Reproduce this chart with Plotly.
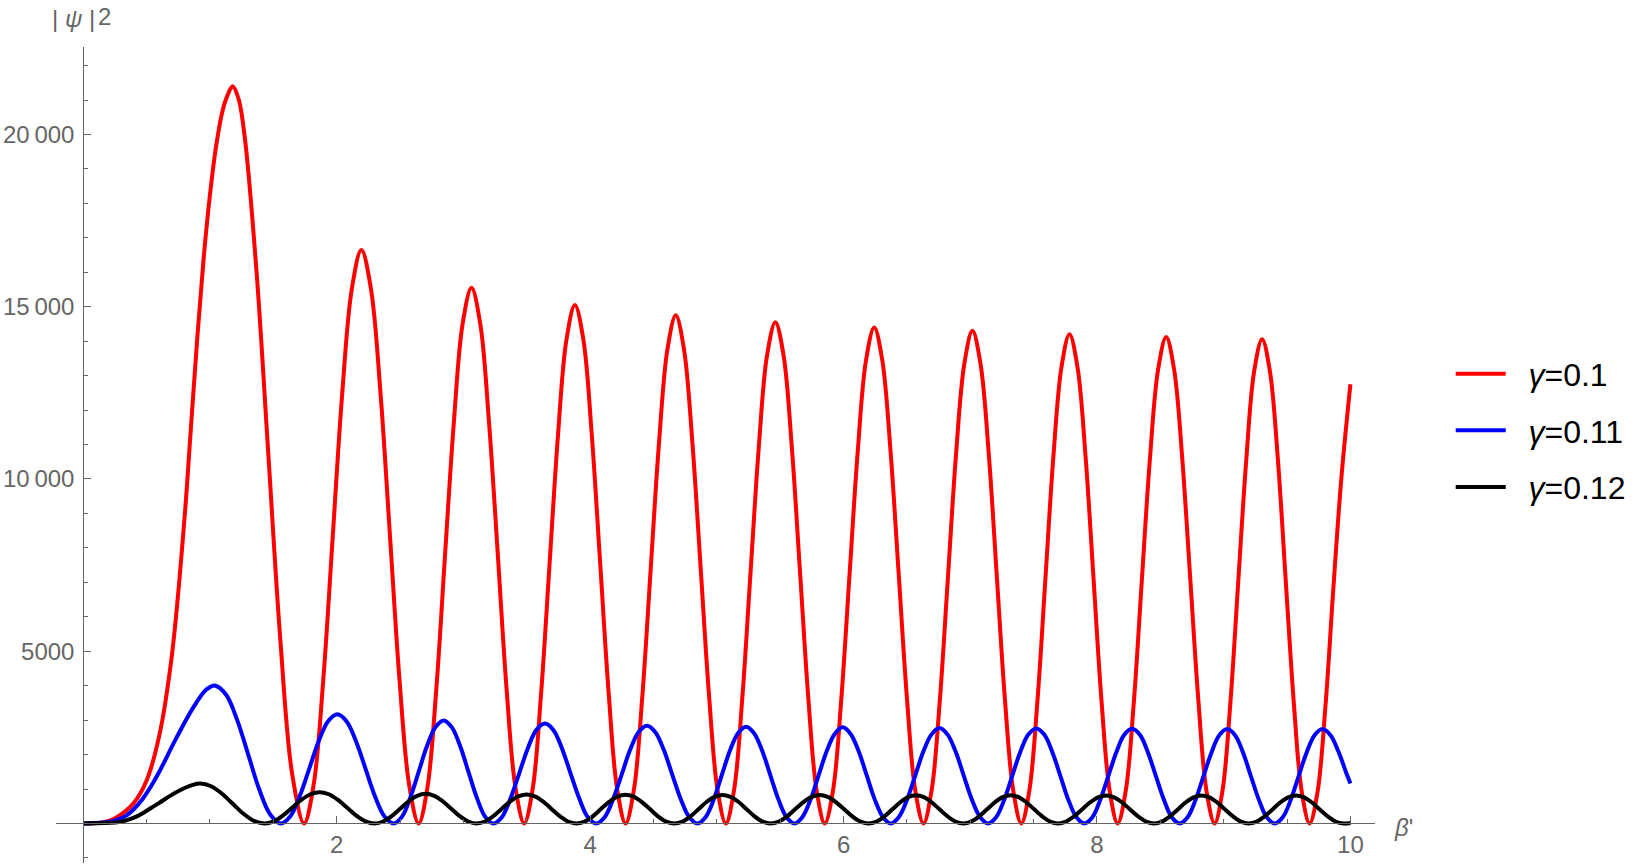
import plotly.graph_objects as go

# ---------------- data ----------------
# gamma = 0.1 : beta' positions and |psi|^2 (thousands)
beta_red = [
    0.0, 0.15, 0.234, 0.313, 0.4, 0.5, 0.6, 0.7, 0.8, 0.85, 0.9, 0.95, 1.0, 1.05, 1.1, 1.14, 1.179,
    1.226, 1.273, 1.367, 1.461, 1.555, 1.649, 1.743,
    1.818, 1.894, 1.969, 2.044, 2.120, 2.195, 2.270, 2.346, 2.421, 2.496, 2.572, 2.647,
    2.716, 2.786, 2.855, 2.925, 2.994, 3.064, 3.133, 3.202, 3.272, 3.341, 3.411, 3.480,
    3.547, 3.613, 3.680, 3.747, 3.813, 3.880, 3.947, 4.013, 4.080, 4.147, 4.213, 4.280,
    4.346, 4.412, 4.478, 4.544, 4.610, 4.676, 4.741, 4.807, 4.873, 4.939, 5.005, 5.071,
    5.136, 5.201, 5.266, 5.331, 5.396, 5.462, 5.527, 5.592, 5.657, 5.722, 5.787, 5.852,
    5.917, 5.982, 6.047, 6.112, 6.177, 6.242, 6.306, 6.371, 6.436, 6.501, 6.566, 6.631,
    6.695, 6.760, 6.824, 6.888, 6.953, 7.017, 7.081, 7.146, 7.210, 7.274, 7.339, 7.403,
    7.466, 7.530, 7.593, 7.656, 7.720, 7.783, 7.846, 7.910, 7.973, 8.036, 8.100, 8.163,
    8.227, 8.291, 8.354, 8.418, 8.482, 8.546, 8.609, 8.673, 8.737, 8.801, 8.864, 8.928,
    8.990, 9.053, 9.115, 9.178, 9.240, 9.303, 9.365, 9.428, 9.490, 9.553, 9.615, 9.678,
    9.740, 9.803, 9.865, 9.928, 10.0]
psi2_red_k = [
    0.0, 0.03, 0.12, 0.3, 0.6, 1.25, 2.55, 4.9, 8.9, 11.5, 14.1, 16.4, 18.25, 19.7, 20.7, 21.15, 21.4,
    21.03, 19.97, 16.05, 10.7, 5.35, 1.43, 0.0,
    1.12, 4.16, 8.33, 12.49, 15.53, 16.65, 15.53, 12.49, 8.33, 4.16, 1.12, 0.0,
    1.04, 3.89, 7.78, 11.66, 14.51, 15.55, 14.51, 11.66, 7.78, 3.89, 1.04, 0.0,
    1.01, 3.76, 7.53, 11.29, 14.04, 15.05, 14.04, 11.29, 7.53, 3.76, 1.01, 0.0,
    0.99, 3.69, 7.38, 11.06, 13.76, 14.75, 13.76, 11.06, 7.38, 3.69, 0.99, 0.0,
    0.97, 3.64, 7.28, 10.91, 13.58, 14.55, 13.58, 10.91, 7.28, 3.64, 0.97, 0.0,
    0.96, 3.60, 7.20, 10.80, 13.44, 14.40, 13.44, 10.80, 7.20, 3.60, 0.96, 0.0,
    0.96, 3.58, 7.15, 10.73, 13.34, 14.30, 13.34, 10.73, 7.15, 3.58, 0.96, 0.0,
    0.95, 3.55, 7.10, 10.65, 13.25, 14.20, 13.25, 10.65, 7.10, 3.55, 0.95, 0.0,
    0.95, 3.53, 7.06, 10.59, 13.17, 14.12, 13.17, 10.59, 7.06, 3.53, 0.95, 0.0,
    0.94, 3.52, 7.03, 10.55, 13.12, 14.06, 13.12, 10.55, 7.03, 3.52, 0.94, 0.0,
    0.90, 3.40, 6.80, 10.0, 12.75]

# gamma = 0.11
beta_blue = [
    0.0, 0.21, 0.27, 0.34, 0.40, 0.47, 0.535, 0.60, 0.73, 0.865, 0.96, 1.0, 1.043,
    1.129, 1.215, 1.302, 1.388, 1.474, 1.56,
    1.634, 1.708, 1.783, 1.857, 1.931, 2.005, 2.079, 2.153, 2.228, 2.302, 2.376, 2.45,
    2.516, 2.581, 2.647, 2.712, 2.778, 2.844, 2.909, 2.975, 3.040, 3.106, 3.171, 3.237,
    3.305, 3.372, 3.440, 3.508, 3.575, 3.643, 3.711, 3.778, 3.846, 3.914, 3.981, 4.049,
    4.116, 4.182, 4.249, 4.315, 4.382, 4.449, 4.515, 4.582, 4.648, 4.715, 4.781, 4.848,
    4.912, 4.976, 5.039, 5.103, 5.167, 5.231, 5.294, 5.358, 5.422, 5.486, 5.549, 5.613,
    5.676, 5.740, 5.803, 5.866, 5.930, 5.993, 6.056, 6.120, 6.183, 6.246, 6.310, 6.373,
    6.437, 6.501, 6.565, 6.629, 6.693, 6.757, 6.821, 6.885, 6.949, 7.013, 7.077, 7.141,
    7.204, 7.268, 7.331, 7.394, 7.458, 7.521, 7.584, 7.648, 7.711, 7.774, 7.838, 7.901,
    7.964, 8.026, 8.089, 8.152, 8.214, 8.277, 8.340, 8.402, 8.465, 8.528, 8.590, 8.653,
    8.715, 8.778, 8.840, 8.903, 8.965, 9.028, 9.090, 9.153, 9.215, 9.278, 9.340, 9.403,
    9.466, 9.529, 9.591, 9.654, 9.717, 9.780, 9.843, 9.906, 9.969, 10.0]
psi2_blue_k = [
    0.0, 0.05, 0.11, 0.23, 0.42, 0.72, 1.08, 1.5, 2.45, 3.35, 3.85, 3.96, 4.0,
    3.73, 3.0, 2.0, 1.0, 0.27, 0.0,
    0.21, 0.79, 1.585, 2.38, 2.96, 3.17, 2.96, 2.38, 1.585, 0.79, 0.21, 0.0,
    0.20, 0.75, 1.50, 2.24, 2.79, 2.99, 2.79, 2.24, 1.50, 0.75, 0.20, 0.0,
    0.19, 0.73, 1.45, 2.18, 2.71, 2.90, 2.71, 2.18, 1.45, 0.73, 0.19, 0.0,
    0.19, 0.71, 1.42, 2.13, 2.65, 2.84, 2.65, 2.13, 1.42, 0.71, 0.19, 0.0,
    0.19, 0.70, 1.405, 2.11, 2.62, 2.81, 2.62, 2.11, 1.405, 0.70, 0.19, 0.0,
    0.19, 0.70, 1.395, 2.09, 2.60, 2.79, 2.60, 2.09, 1.395, 0.70, 0.19, 0.0,
    0.19, 0.69, 1.385, 2.08, 2.58, 2.77, 2.58, 2.08, 1.385, 0.69, 0.19, 0.0,
    0.18, 0.69, 1.38, 2.07, 2.58, 2.76, 2.58, 2.07, 1.38, 0.69, 0.18, 0.0,
    0.18, 0.69, 1.375, 2.06, 2.57, 2.75, 2.57, 2.06, 1.375, 0.69, 0.18, 0.0,
    0.18, 0.685, 1.37, 2.055, 2.56, 2.74, 2.56, 2.055, 1.37, 0.685, 0.18, 0.0,
    0.18, 0.685, 1.37, 2.055, 2.56, 2.74, 2.56, 2.08, 1.45, 1.16]

# gamma = 0.12
beta_black = [
    0.0, 0.21, 0.27, 0.34, 0.40, 0.47, 0.535, 0.60, 0.73, 0.865, 0.925,
    1.009, 1.093, 1.178, 1.262, 1.346, 1.43,
    1.503, 1.575, 1.648, 1.720, 1.793, 1.865, 1.938, 2.010, 2.083, 2.155, 2.228, 2.30,
    2.367, 2.434, 2.501, 2.568, 2.635, 2.703, 2.770, 2.837, 2.904, 2.971, 3.038, 3.105,
    3.171, 3.236, 3.302, 3.367, 3.433, 3.499, 3.564, 3.630, 3.695, 3.761, 3.826, 3.892,
    3.956, 4.021, 4.085, 4.150, 4.214, 4.279, 4.343, 4.407, 4.472, 4.536, 4.601, 4.665,
    4.728, 4.792, 4.855, 4.918, 4.982, 5.045, 5.108, 5.172, 5.235, 5.298, 5.362, 5.425,
    5.489, 5.554, 5.618, 5.683, 5.747, 5.812, 5.876, 5.940, 6.005, 6.069, 6.134, 6.198,
    6.260, 6.323, 6.385, 6.447, 6.509, 6.572, 6.634, 6.696, 6.758, 6.821, 6.883, 6.945,
    7.007, 7.070, 7.132, 7.194, 7.256, 7.319, 7.381, 7.443, 7.505, 7.568, 7.630, 7.692,
    7.755, 7.819, 7.882, 7.945, 8.008, 8.072, 8.135, 8.198, 8.261, 8.324, 8.388, 8.451,
    8.513, 8.576, 8.638, 8.700, 8.762, 8.825, 8.887, 8.949, 9.011, 9.074, 9.136, 9.198,
    9.260, 9.323, 9.385, 9.447, 9.509, 9.572, 9.634, 9.696, 9.758, 9.821, 9.883, 9.945, 10.0]
psi2_black_k = [
    0.0, 0.02, 0.035, 0.09, 0.17, 0.30, 0.45, 0.60, 0.90, 1.12, 1.16,
    1.08, 0.87, 0.58, 0.29, 0.078, 0.0,
    0.061, 0.228, 0.455, 0.683, 0.849, 0.91, 0.849, 0.683, 0.455, 0.228, 0.061, 0.0,
    0.058, 0.215, 0.43, 0.645, 0.802, 0.86, 0.802, 0.645, 0.43, 0.215, 0.058, 0.0,
    0.057, 0.211, 0.4225, 0.634, 0.788, 0.845, 0.788, 0.634, 0.4225, 0.211, 0.057, 0.0,
    0.056, 0.209, 0.4175, 0.626, 0.779, 0.835, 0.779, 0.626, 0.4175, 0.209, 0.056, 0.0,
    0.056, 0.208, 0.415, 0.623, 0.774, 0.83, 0.774, 0.623, 0.415, 0.208, 0.056, 0.0,
    0.055, 0.206, 0.4125, 0.619, 0.770, 0.825, 0.770, 0.619, 0.4125, 0.206, 0.055, 0.0,
    0.055, 0.205, 0.41, 0.615, 0.765, 0.82, 0.765, 0.615, 0.41, 0.205, 0.055, 0.0,
    0.055, 0.205, 0.41, 0.615, 0.765, 0.82, 0.765, 0.615, 0.41, 0.205, 0.055, 0.0,
    0.055, 0.204, 0.4075, 0.611, 0.760, 0.815, 0.760, 0.611, 0.4075, 0.204, 0.055, 0.0,
    0.055, 0.204, 0.4075, 0.611, 0.760, 0.815, 0.760, 0.611, 0.4075, 0.204, 0.055, 0.0,
    0.055, 0.204, 0.4075, 0.611, 0.760, 0.815, 0.760, 0.611, 0.4075, 0.204, 0.055, 0.0, 0.016]

series_names = ["\u00a0\u00a0<i>γ</i>=0.1", "\u00a0\u00a0<i>γ</i>=0.11", "\u00a0\u00a0<i>γ</i>=0.12"]
series_colors = ["#ff0000", "#0000ff", "#000000"]

x_major_ticks = [2, 4, 6, 8, 10]
x_minor_ticks = [0.5, 1, 1.5, 2.5, 3, 3.5, 4.5, 5, 5.5, 6.5, 7, 7.5, 8.5, 9, 9.5]
y_major_ticks = [5000, 10000, 15000, 20000]
y_major_labels = ["5000", "10\u2009000", "15\u2009000", "20\u2009000"]
y_minor_ticks = [-1000, 1000, 2000, 3000, 4000, 6000, 7000, 8000, 9000, 11000, 12000, 13000,
                 14000, 16000, 17000, 18000, 19000, 21000, 22000]

# ---------------- figure ----------------
X_RANGE = [-0.215, 10.194]
Y_RANGE = [-1147, 22540]
AX = "#666666"
FONT = "Liberation Sans, Arial, sans-serif"
ML, MT, PW, PH = 56, 47, 1324, 816  # plot area (px)

fig = go.Figure()
for bx, vals, name, col, grp in [
    (beta_red, psi2_red_k, series_names[0], series_colors[0], "r"),
    (beta_blue, psi2_blue_k, series_names[1], series_colors[1], "b"),
    (beta_black, psi2_black_k, series_names[2], series_colors[2], "k"),
]:
    fig.add_trace(go.Scatter(
        x=bx, y=[v * 1000 for v in vals], mode="lines", name=name, legendgroup=grp,
        line=dict(color=col, width=4, shape="spline", smoothing=1.0),
    ))

xpos = (0 - Y_RANGE[0]) / (Y_RANGE[1] - Y_RANGE[0])
ypos = (0 - X_RANGE[0]) / (X_RANGE[1] - X_RANGE[0])

fig.update_layout(
    width=1632, height=864,
    margin=dict(l=ML, r=1632 - ML - PW, t=MT, b=864 - MT - PH),
    paper_bgcolor="white", plot_bgcolor="white",
    font=dict(family=FONT, size=24, color=AX),
    xaxis=dict(range=X_RANGE, anchor="free", position=xpos, showgrid=False, zeroline=False,
               automargin=False, showline=True, linecolor=AX, linewidth=1,
               tickmode="array", tickvals=x_major_ticks, ticks="inside", ticklen=7,
               tickcolor=AX, tickwidth=1, tickfont=dict(size=24, color=AX),
               minor=dict(tickmode="array", tickvals=x_minor_ticks, ticks="inside",
                          ticklen=4, tickcolor=AX, tickwidth=1)),
    yaxis=dict(range=Y_RANGE, anchor="free", position=ypos, showgrid=False, zeroline=False,
               automargin=False, showline=True, linecolor=AX, linewidth=1,
               tickmode="array", tickvals=y_major_ticks, ticktext=y_major_labels,
               ticks="inside", ticklen=7, tickcolor=AX, tickwidth=1,
               tickfont=dict(size=24, color=AX), ticklabelstandoff=4,
               minor=dict(tickmode="array", tickvals=y_minor_ticks, ticks="inside",
                          ticklen=4, tickcolor=AX, tickwidth=1)),
    legend=dict(x=1.0574, xanchor="left", y=0.633, yanchor="top", traceorder="grouped",
                tracegroupgap=12, itemwidth=50, bgcolor="rgba(0,0,0,0)",
                font=dict(family=FONT, size=32, color="black")),
    showlegend=True,
)

# axis labels
fig.add_annotation(xref="paper", yref="paper", x=(74 - ML) / PW, y=1 + (MT - 19) / PH,
                   xanchor="center", yanchor="middle", showarrow=False,
                   text="| <i>ψ</i> |", font=dict(family=FONT, size=24, color=AX))
fig.add_annotation(xref="paper", yref="paper", x=(104.5 - ML) / PW, y=1 + (MT - 1) / PH,
                   xanchor="center", yanchor="top", showarrow=False,
                   text="2", font=dict(family=FONT, size=24, color=AX))
fig.add_annotation(xref="paper", yref="paper", x=(1409 - ML) / PW, y=1 - (827 - MT) / PH,
                   xanchor="center", yanchor="middle", showarrow=False, text="<i>β</i>'",
                   font=dict(family=FONT, size=24, color=AX))

# remove the browser's default 8px page margin so the figure fills the window exactly
fig.write_html("out.html", config={"displayModeBar": False},
               post_script="document.body.style.margin='0';")
